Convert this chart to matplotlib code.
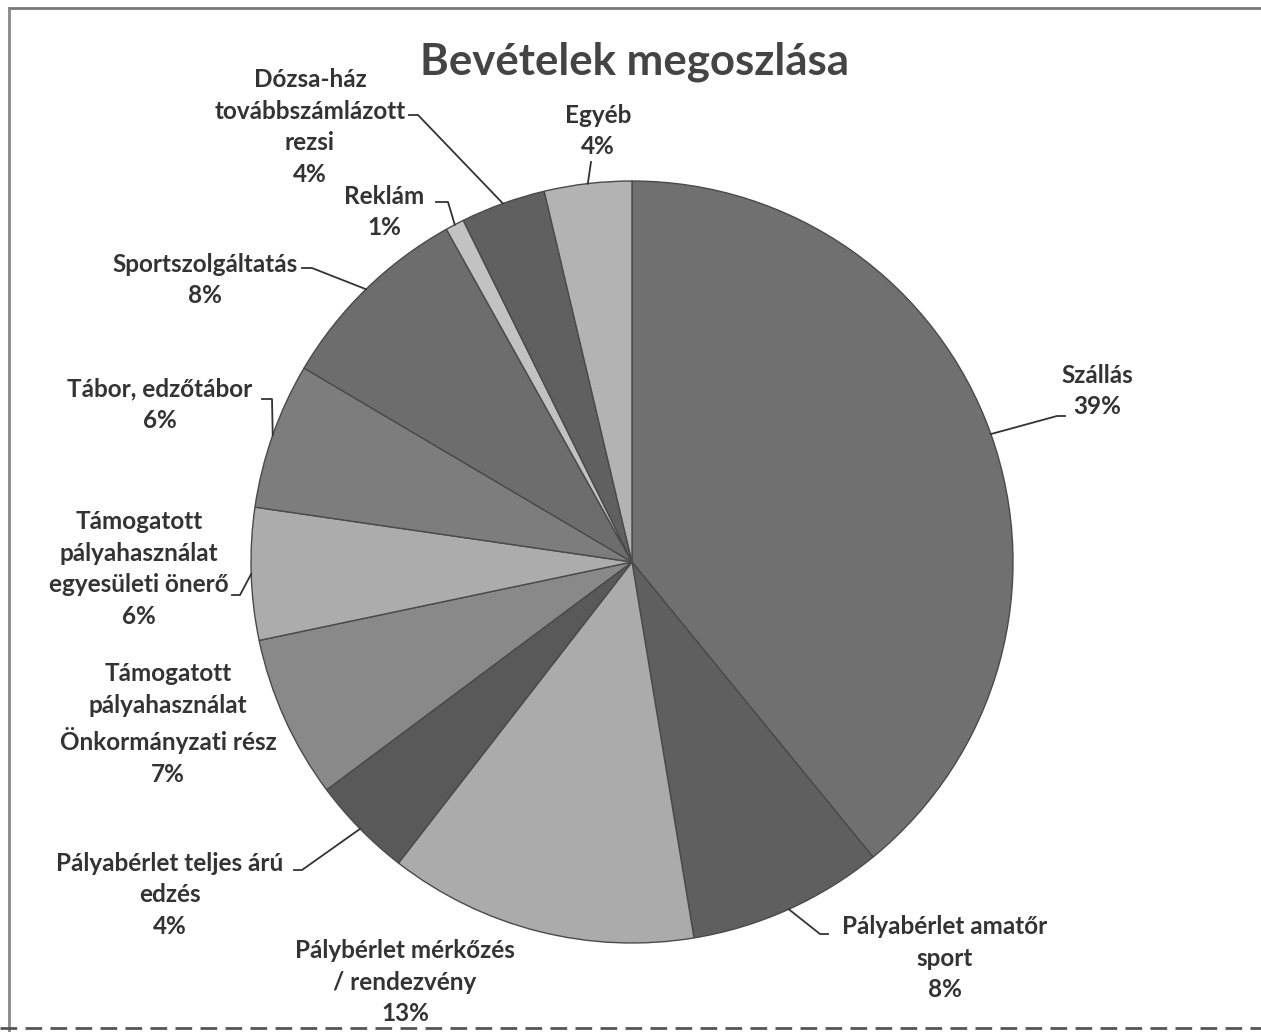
import matplotlib.pyplot as plt
import numpy as np

# adatok (a kép alapján becsülve)
categories = ['Szállás', 'Pályabérlet amatőr\nsport', 'Pálybérlet mérkőzés\n/ rendezvény',
              'Pályabérlet teljes árú\nedzés', 'Támogatott\npályahasználat\nÖnkormányzati rész',
              'Támogatott\npályahasználat\negyesületi önerő', 'Tábor, edzőtábor',
              'Sportszolgáltatás', 'Reklám', 'Dózsa-ház\ntovábbszámlázott\nrezsi', 'Egyéb']
values = [39.1, 8.3, 13.1, 4.3, 6.9, 5.6, 6.2, 8.4, 0.8, 3.6, 3.7]
colors = ['#707070', '#5f5f5f', '#ababab', '#595959', '#898989', '#acacac',
          '#7d7d7d', '#6d6d6d', '#c2c2c2', '#606060', '#b3b3b3']

W, H = 1261, 1032
def Y(py):
    return H - py

# címke elhelyezés (pixelben): szöveg közepe, könyökpont, vonalvég
label_pos = [(1097, 391), (945, 958), (405, 982), (170, 895), (168, 724),
             (139, 569), (160, 405), (205, 280), (384, 212), (310, 127), (598, 131)]
elbows = [((1057, 416), (1065, 416)), ((820, 934), (828, 934)), None,
          ((302, 870), (294, 870)), None, ((240, 595), (232, 595)),
          ((272, 399), (262, 399)), ((312, 268), (302, 268)),
          ((448, 202), (436, 202)), ((418, 115), (409, 115)),
          ((591, 162), (591, 162))]

plt.rcParams['font.family'] = ['Lato', 'DejaVu Sans']
fig = plt.figure(figsize=(W / 100, H / 100), dpi=100)
ax = fig.add_axes([0, 0, 1, 1])

cx, cy, r = 632, Y(562), 381
wedges, _ = ax.pie(values, colors=colors, startangle=90, counterclock=False,
                   center=(cx, cy), radius=r, frame=True,
                   wedgeprops=dict(edgecolor='#4a4a4a', linewidth=1.0))
ax.set_xlim(0, W)
ax.set_ylim(0, H)
ax.set_aspect('equal')
ax.axis('off')

for w, name, v, pos, el in zip(wedges, categories, values, label_pos, elbows):
    txt = name + '\n' + str(int(round(v))) + '%'
    ax.text(pos[0], Y(pos[1]), txt, ha='center', va='center', fontsize=17.5,
            fontweight='bold', color='#333333', linespacing=1.45)
    if el is not None:
        ang = np.deg2rad((w.theta1 + w.theta2) / 2)
        ex, ey = cx + r * np.cos(ang), cy + r * np.sin(ang)
        ax.plot([ex, el[0][0], el[1][0]], [ey, Y(el[0][1]), Y(el[1][1])],
                color='#333333', lw=1.3)

ax.text(635, Y(62), 'Bevételek megoszlása', ha='center', va='center',
        fontsize=31.5, fontweight='bold', color='#444444')

# keret
ax.plot([9, W], [Y(8), Y(8)], color='#777777', lw=2)
ax.plot([9, 9], [Y(8), Y(1032)], color='#888888', lw=2)
ax.plot([0, W], [Y(1028), Y(1028)], color='#555555', lw=2, ls=(0, (6, 3)))

plt.savefig('out.png', dpi=100)
